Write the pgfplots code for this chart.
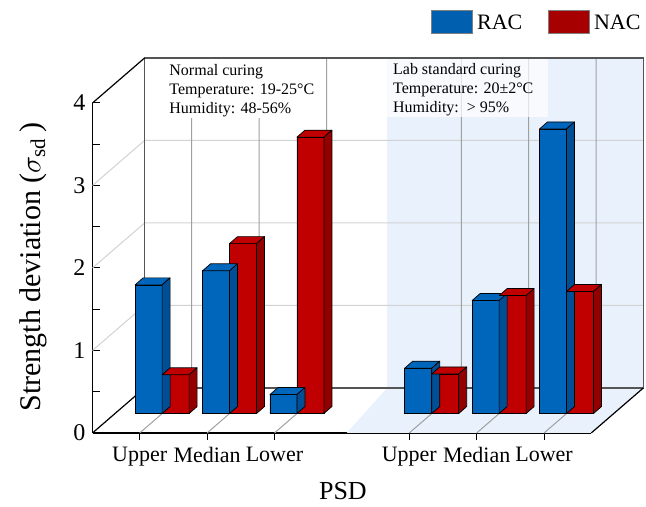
\documentclass[border=0pt]{standalone}
\usepackage{fontspec}
\setmainfont{Liberation Serif}
\usepackage{pgfplots}
\usepackage{pgfplotstable}
\pgfplotsset{compat=1.18}

\definecolor{racfront}{HTML}{0066BB}
\definecolor{racside}{HTML}{004E93}
\definecolor{nacfront}{HTML}{C00000}
\definecolor{nacside}{HTML}{930000}
\definecolor{racleg}{HTML}{005FAE}
\definecolor{nacleg}{HTML}{A60000}
\definecolor{zoneblue}{HTML}{E8F1FC}
\definecolor{gridgray}{HTML}{D2D2D2}
\definecolor{linegray}{HTML}{A0A0A0}
\definecolor{framegray}{HTML}{555555}

\pgfdeclareplotmark{blank}{}

% values measured from the floor at the depth of the bars
\pgfplotstableread{
pos rac nac
1 1.56 0.47
2 1.73 2.06
3 0.23 3.35
5 0.55 0.48
6 1.37 1.43
7 3.45 1.48
}\psd

% depth of the box: (0.772, 0.545) in data units; bars sit at 0.43 of it
\pgfplotsset{
  front3d/.style={ybar, bar width=13.5pt, xshift=11.2pt, yshift=9.7pt,
    draw=black, line width=0.35pt},
  cap3d/.style n args={3}{% side colour, top colour, left edge (pt)
    forget plot, scatter, only marks, mark=blank,
    xshift=11.2pt, yshift=9.7pt,
    visualization depends on={rawy \as \barval},
    scatter/@pre marker code/.code={%
      \pgfmathsetlengthmacro\barh{\barval*41.25pt}%
      \filldraw[fill=#2, draw=black, line width=0.35pt, line join=round]
        (#3pt,0pt) -- (#3pt+13.5pt,0pt) -- (#3pt+17.5pt,3.5pt) -- (#3pt+4pt,3.5pt) -- cycle;
      \filldraw[fill=#1, draw=black, line width=0.35pt, line join=round]
        (#3pt+13.5pt,0pt) -- (#3pt+17.5pt,3.5pt) -- (#3pt+17.5pt,3.5pt-\barh) -- (#3pt+13.5pt,-\barh) -- cycle;
    },
    scatter/@post marker code/.code={},
  },
}

\begin{document}
\begin{tikzpicture}
\begin{axis}[
  x=33.7pt, y=41.25pt,
  xmin=0.3, xmax=7.7, ymin=0, ymax=4,
  clip=false,
  axis x line*=bottom, axis y line*=left,
  axis line style={black, line width=0.6pt},
  xtick={1,2,3,5,6,7},
  xticklabels={Upper,Median,Lower,Upper,Median,Lower},
  ytick={0,1,2,3,4},
  minor ytick={0.5,1.5,2.5,3.5},
  xtick align=outside, ytick align=inside,
  major tick length=3.5pt, minor tick length=3.5pt,
  tick style={black, line width=0.5pt},
  xticklabel style={font=\rmfamily\fontsize{11}{13}\selectfont},
  yticklabel style={font=\fontsize{12}{14}\selectfont},
  /pgf/number format/assume math mode=true,
  xlabel={PSD},
  ylabel={Strength deviation ($\sigma_{\mathrm{sd}}$\,)},
  every axis x label/.style={at={(axis description cs:0.502,-0.176)}, anchor=center,
    font=\fontsize{13}{15}\selectfont},
  every axis y label/.style={at={(axis description cs:-0.119,0.5025)}, anchor=center,
    rotate=90, font=\fontsize{15}{17}\selectfont},
  legend columns=2,
  legend style={at={(axis description cs:0.6786,1.2415)}, anchor=west,
    draw=none, fill=none, inner sep=0pt,
    font=\fontsize{11}{13}\selectfont,
    /tikz/every even column/.append style={column sep=11pt}},
]
% light blue zone of the lab-cured group
\addplot[fill=zoneblue, draw=none, forget plot] coordinates
  {(4.07,0) (7.7,0) (8.472,0.545) (8.472,4.545) (4.67,4.545) (4.67,0.545)} -- cycle;

% horizontal grid on side and back walls
\addplot[gridgray, line width=0.5pt, forget plot] coordinates {(0.3,1) (1.072,1.545) (8.472,1.545)};
\addplot[gridgray, line width=0.5pt, forget plot] coordinates {(0.3,2) (1.072,2.545) (8.472,2.545)};
\addplot[gridgray, line width=0.5pt, forget plot] coordinates {(0.3,3) (1.072,3.545) (8.472,3.545)};

% category lines on floor and back wall
\addplot[linegray, line width=0.5pt, forget plot] coordinates {(1,0) (1.772,0.545) (1.772,4.545)};
\addplot[linegray, line width=0.5pt, forget plot] coordinates {(2,0) (2.772,0.545) (2.772,4.545)};
\addplot[linegray, line width=0.5pt, forget plot] coordinates {(3,0) (3.772,0.545) (3.772,4.545)};
\addplot[linegray, line width=0.5pt, forget plot] coordinates {(5,0) (5.772,0.545) (5.772,4.545)};
\addplot[linegray, line width=0.5pt, forget plot] coordinates {(6,0) (6.772,0.545) (6.772,4.545)};
\addplot[linegray, line width=0.5pt, forget plot] coordinates {(7,0) (7.772,0.545) (7.772,4.545)};

% box edges
\addplot[framegray, line width=0.6pt, forget plot] coordinates
  {(1.072,0.545) (8.472,0.545) (8.472,4.545) (1.072,4.545) (1.072,0.545)};
\addplot[black, line width=0.6pt, forget plot] coordinates {(0.3,0) (1.072,0.545)};
\addplot[black, line width=0.6pt, forget plot] coordinates {(0.3,4) (1.072,4.545)};
\addplot[black, line width=0.6pt, forget plot] coordinates {(7.7,0) (8.472,0.545)};

% bars
\addplot[front3d, bar shift=-6.75pt, fill=racfront,
  legend image code/.code={\draw[fill=racleg, draw=gray] (0pt,-14.5pt) rectangle (20.5pt,-3pt);}]
  table[x=pos, y=rac] {\psd};
\addlegendentry{RAC}
\addplot[cap3d={racside}{racfront}{-13.5}] table[x=pos, y=rac] {\psd};
\addplot[front3d, bar shift=6.75pt, fill=nacfront,
  legend image code/.code={\draw[fill=nacleg, draw=gray] (0pt,-14.5pt) rectangle (20.5pt,-3pt);}]
  table[x=pos, y=nac] {\psd};
\addlegendentry{NAC}
\addplot[cap3d={nacside}{nacfront}{0}] table[x=pos, y=nac] {\psd};

% condition boxes
\fill[white] (axis cs:1.09,3.82) rectangle (axis cs:3.70,4.53);
\fill[white, opacity=0.7] (axis cs:4.61,3.83) rectangle (axis cs:7.06,4.53);
\node[anchor=north west, align=left, inner sep=0pt, font=\fontsize{8}{9.5}\selectfont]
  at (axis cs:1.435,4.473) {Normal curing\\Temperature: 19-25°C\\Humidity: 48-56\%};
\node[anchor=north west, align=left, inner sep=0pt, font=\fontsize{8}{9.5}\selectfont]
  at (axis cs:4.754,4.485) {Lab standard curing\\Temperature: 20±2°C\\Humidity: \,> 95\%};

% page frame
\path (axis cs:-1.073,-0.848) rectangle (axis cs:8.512,5.248);
\end{axis}
\end{tikzpicture}
\end{document}
